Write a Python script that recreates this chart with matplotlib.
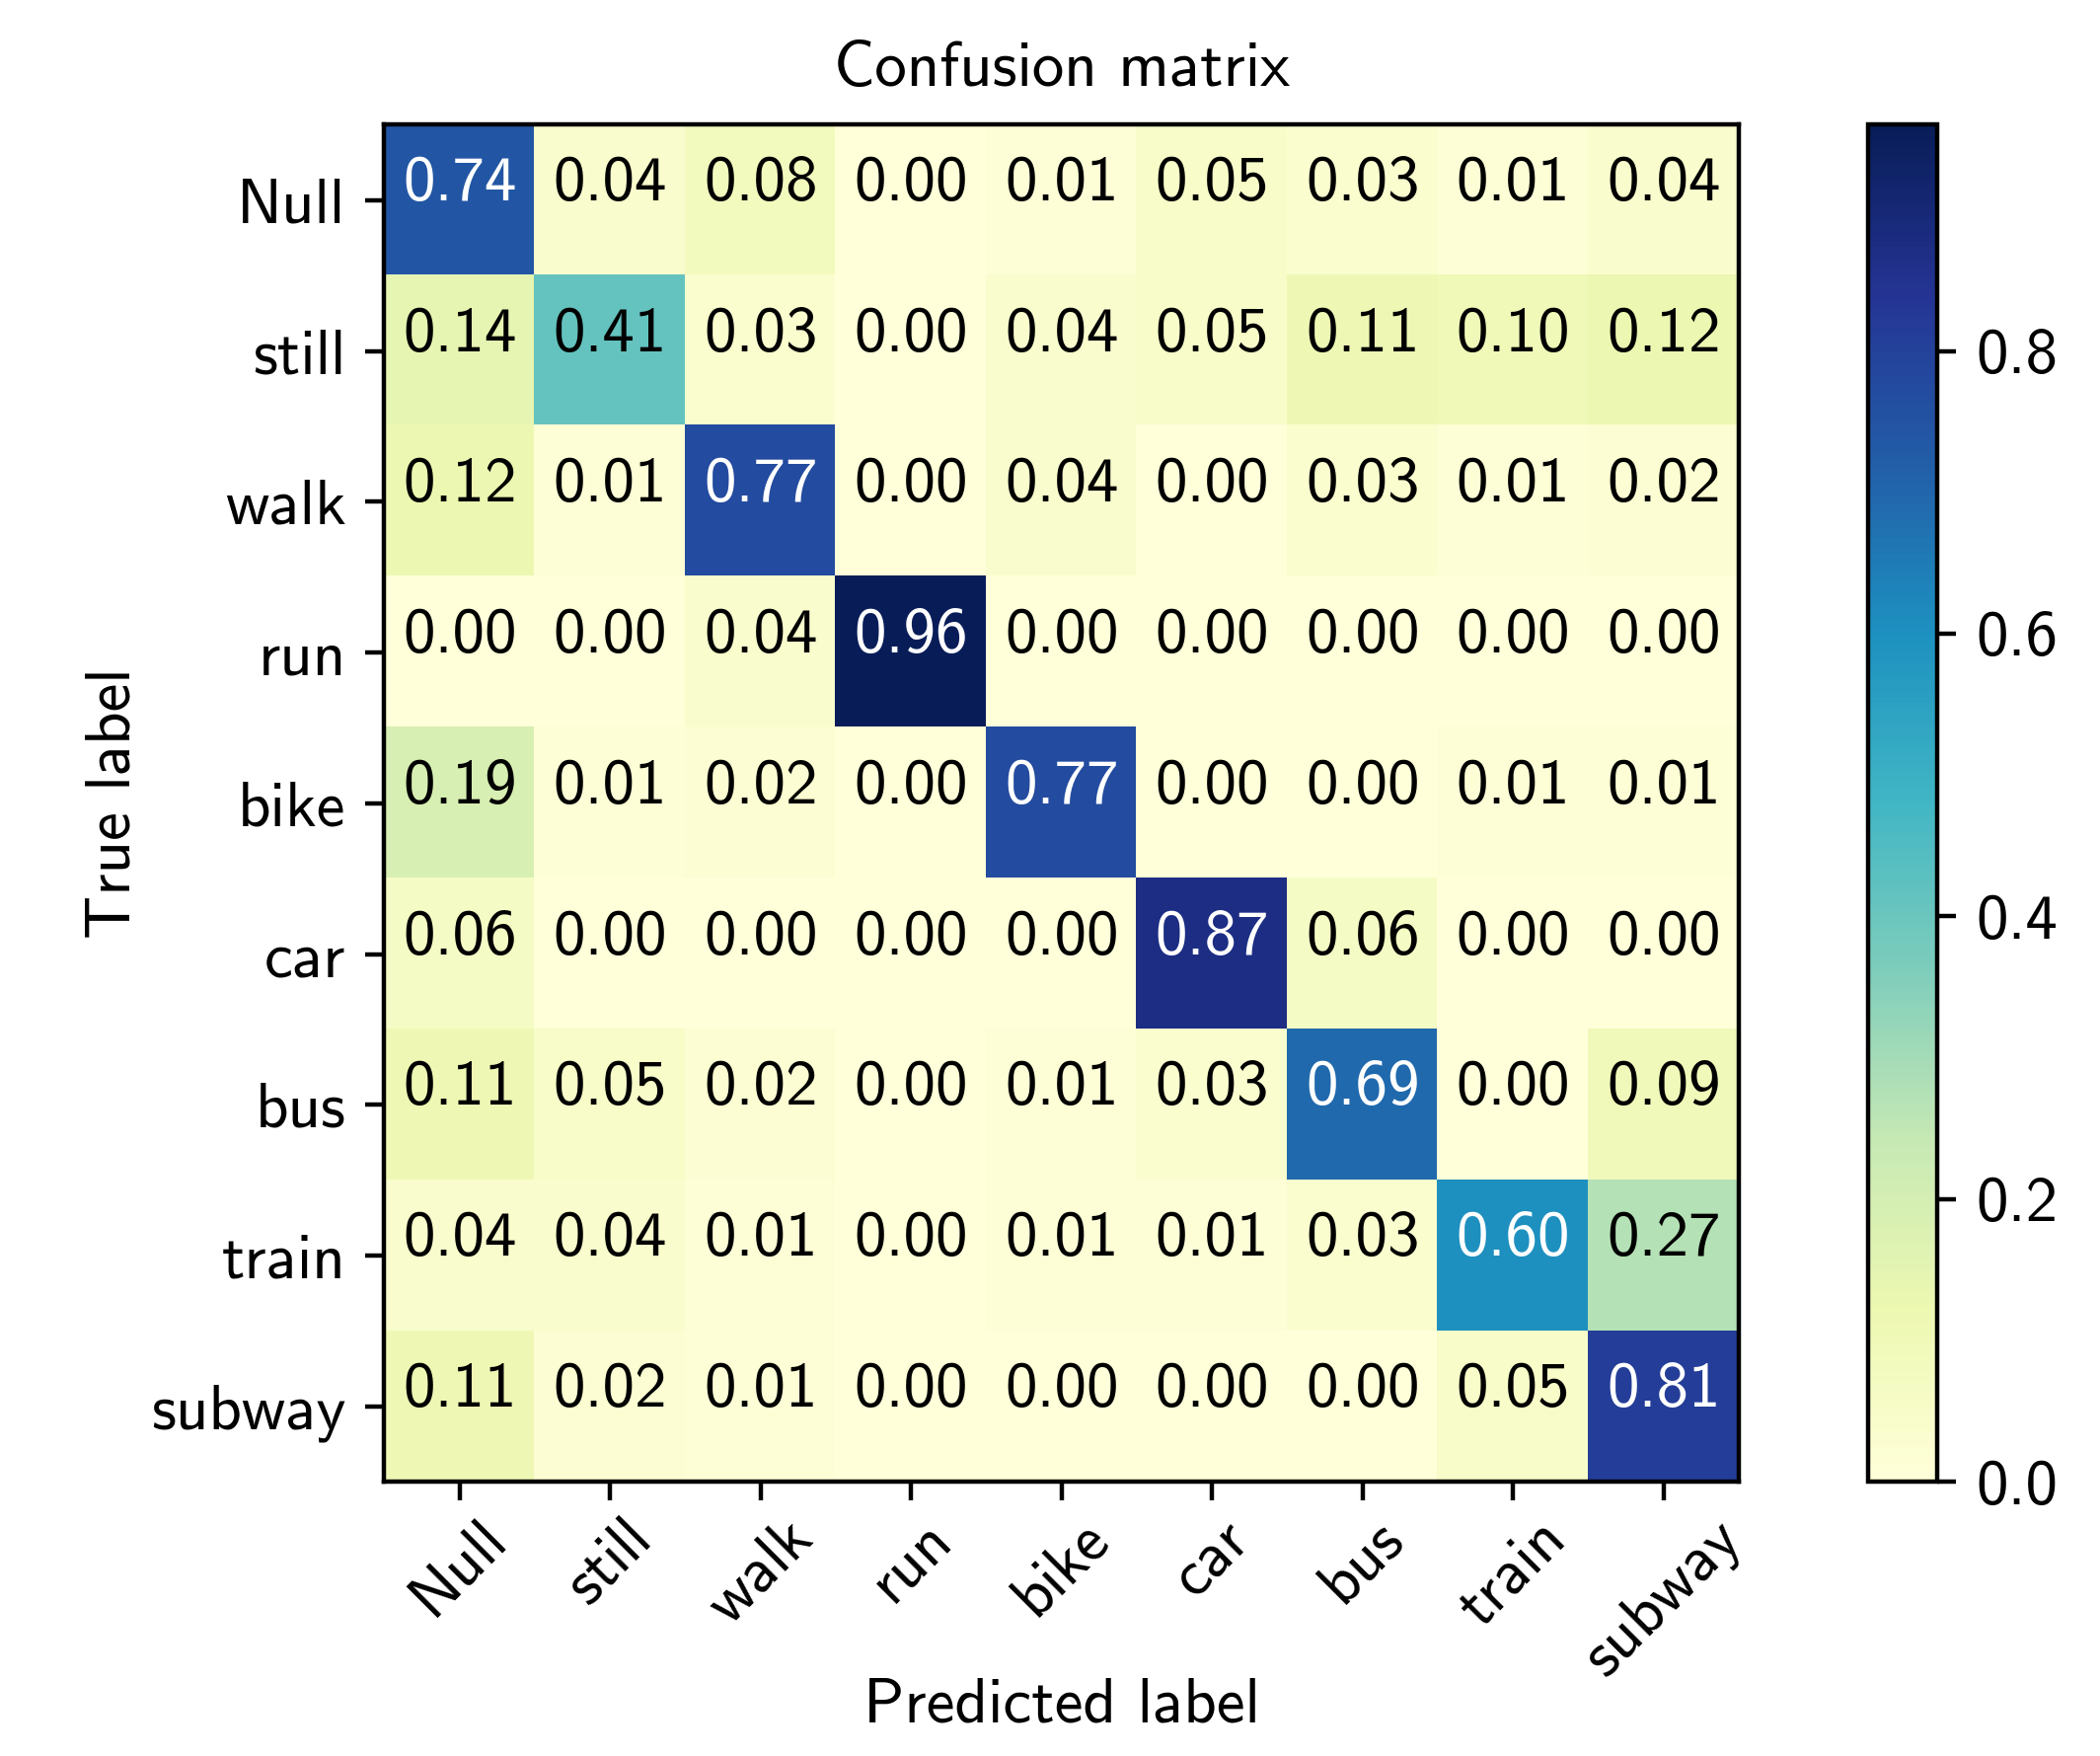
import numpy as np
import matplotlib
matplotlib.use('Agg')
import matplotlib.pyplot as plt

plt.rcParams['font.family'] = ['cmss10', 'DejaVu Sans']
plt.rcParams['axes.unicode_minus'] = False
plt.rcParams['font.size'] = 11.7
plt.rcParams['axes.titlesize'] = 11.7

classes = ['Null', 'still', 'walk', 'run', 'bike', 'car', 'bus', 'train', 'subway']

row_null = [0.74, 0.04, 0.08, 0.00, 0.01, 0.05, 0.03, 0.01, 0.04]
row_still = [0.14, 0.41, 0.03, 0.00, 0.04, 0.05, 0.11, 0.10, 0.12]
row_walk = [0.12, 0.01, 0.77, 0.00, 0.04, 0.00, 0.03, 0.01, 0.02]
row_run = [0.00, 0.00, 0.04, 0.96, 0.00, 0.00, 0.00, 0.00, 0.00]
row_bike = [0.19, 0.01, 0.02, 0.00, 0.77, 0.00, 0.00, 0.01, 0.01]
row_car = [0.06, 0.00, 0.00, 0.00, 0.00, 0.87, 0.06, 0.00, 0.00]
row_bus = [0.11, 0.05, 0.02, 0.00, 0.01, 0.03, 0.69, 0.00, 0.09]
row_train = [0.04, 0.04, 0.01, 0.00, 0.01, 0.01, 0.03, 0.60, 0.27]
row_subway = [0.11, 0.02, 0.01, 0.00, 0.00, 0.00, 0.00, 0.05, 0.81]

cm = np.array([row_null, row_still, row_walk, row_run, row_bike,
               row_car, row_bus, row_train, row_subway])

fig = plt.figure(figsize=(2128 / 400, 1779 / 400), dpi=400)
ax = fig.add_axes([0.183, 0.156, 0.645, 0.773])
cax = fig.add_axes([0.8895, 0.156, 0.033, 0.773])

im = ax.imshow(cm, interpolation='nearest', cmap='YlGnBu', aspect='auto')
ax.set_title('Confusion matrix', pad=7)
cb = fig.colorbar(im, cax=cax)

tick_marks = np.arange(len(classes))
ax.set_xticks(tick_marks)
ax.set_xticklabels(classes, rotation=45)
ax.set_yticks(tick_marks)
ax.set_yticklabels(classes)
ax.tick_params(axis='x', pad=1.5)

thresh = cm.max() / 2.
for i in range(cm.shape[0]):
    for j in range(cm.shape[1]):
        ax.text(j, i, format(cm[i, j], '.2f'), ha='center',
                color='white' if cm[i, j] > thresh else 'black')

ax.set_ylabel('True label', labelpad=1.5)
ax.set_xlabel('Predicted label', labelpad=-2)

fig.savefig('out.png', dpi=400)
